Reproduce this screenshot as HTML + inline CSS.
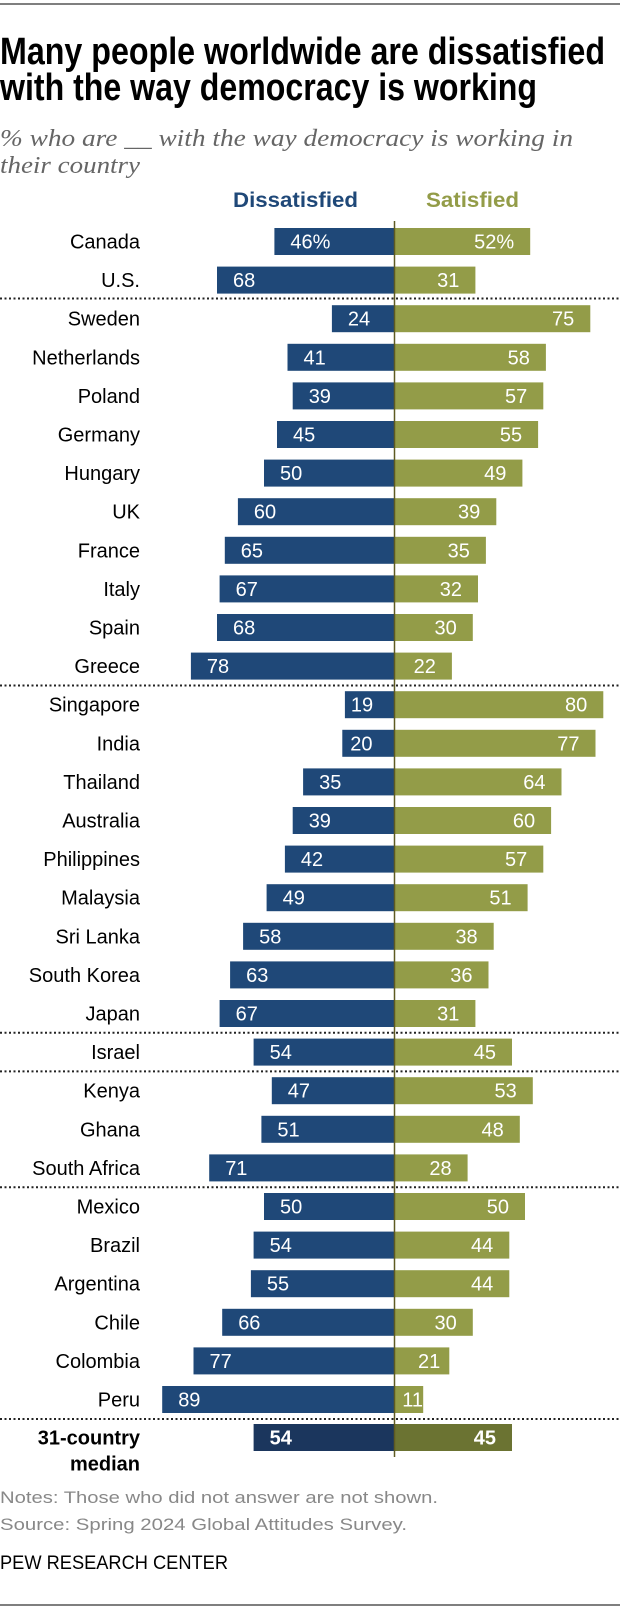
<!DOCTYPE html>
<html><head><meta charset="utf-8"><style>
html,body{margin:0;padding:0;background:#fff;}
svg{display:block;}
.t{font-family:"Liberation Sans Narrow","Liberation Sans",sans-serif;font-weight:bold;font-size:38px;fill:#000;}
.st{font-family:"Liberation Serif",serif;font-style:italic;font-size:24px;fill:#666;}
.lb{font-family:"Liberation Sans",sans-serif;font-size:20px;fill:#000;text-anchor:end;}
.v{font-family:"Liberation Sans",sans-serif;font-size:20px;fill:#fff;}
.ve{font-family:"Liberation Sans",sans-serif;font-size:20px;fill:#fff;text-anchor:end;}
.d{fill:#1f4878;} .s{fill:#939c48;}
.n{font-family:"Liberation Sans",sans-serif;font-size:17px;fill:#888;}
</style></head><body>
<svg width="620" height="1609" viewBox="0 0 620 1609" xmlns="http://www.w3.org/2000/svg">
<line x1="0" y1="4" x2="620" y2="4" stroke="#555" stroke-width="1.5"/>
<text class="t" x="0" y="64" textLength="605" lengthAdjust="spacingAndGlyphs">Many people worldwide are dissatisfied</text>
<text class="t" x="0" y="100" textLength="537" lengthAdjust="spacingAndGlyphs">with the way democracy is working</text>
<text class="st" x="0" y="146" textLength="573" lengthAdjust="spacingAndGlyphs">% who are __ with the way democracy is working in</text>
<text class="st" x="0" y="173" textLength="140" lengthAdjust="spacingAndGlyphs">their country</text>
<text x="233" y="207" textLength="125" lengthAdjust="spacingAndGlyphs" style="font-family:'Liberation Sans Narrow','Liberation Sans',sans-serif;font-weight:bold;font-size:21px;fill:#1f4878">Dissatisfied</text>
<text x="426" y="207" textLength="93" lengthAdjust="spacingAndGlyphs" style="font-family:'Liberation Sans Narrow','Liberation Sans',sans-serif;font-weight:bold;font-size:21px;fill:#939c48">Satisfied</text>

<g stroke="#222" stroke-width="2" stroke-dasharray="2,2.5">
<line x1="0" y1="298.5" x2="620" y2="298.5"/>
<line x1="0" y1="685.5" x2="620" y2="685.5"/>
<line x1="0" y1="1032.8" x2="620" y2="1032.8"/>
<line x1="0" y1="1071.4" x2="620" y2="1071.4"/>
<line x1="0" y1="1187.2" x2="620" y2="1187.2"/>
<line x1="0" y1="1419" x2="620" y2="1419"/>
</g>

<g transform="translate(0,241.5)"><text class="lb" x="140" y="7">Canada</text><rect class="d" x="274.4" y="-13.5" width="120.1" height="27"/><rect class="s" x="394.5" y="-13.5" width="135.7" height="27"/><text class="v" x="290.4" y="7">46%</text><text class="ve" x="514.2" y="7">52%</text></g>
<g transform="translate(0,280.1)"><text class="lb" x="140" y="7">U.S.</text><rect class="d" x="217" y="-13.5" width="177.5" height="27"/><rect class="s" x="394.5" y="-13.5" width="80.9" height="27"/><text class="v" x="233" y="7">68</text><text class="ve" x="459.4" y="7">31</text></g>
<g transform="translate(0,318.7)"><text class="lb" x="140" y="7">Sweden</text><rect class="d" x="331.9" y="-13.5" width="62.6" height="27"/><rect class="s" x="394.5" y="-13.5" width="195.8" height="27"/><text class="v" x="347.9" y="7">24</text><text class="ve" x="574.3" y="7">75</text></g>
<g transform="translate(0,357.3)"><text class="lb" x="140" y="7">Netherlands</text><rect class="d" x="287.5" y="-13.5" width="107" height="27"/><rect class="s" x="394.5" y="-13.5" width="151.4" height="27"/><text class="v" x="303.5" y="7">41</text><text class="ve" x="529.9" y="7">58</text></g>
<g transform="translate(0,395.9)"><text class="lb" x="140" y="7">Poland</text><rect class="d" x="292.7" y="-13.5" width="101.8" height="27"/><rect class="s" x="394.5" y="-13.5" width="148.8" height="27"/><text class="v" x="308.7" y="7">39</text><text class="ve" x="527.3" y="7">57</text></g>
<g transform="translate(0,434.5)"><text class="lb" x="140" y="7">Germany</text><rect class="d" x="277" y="-13.5" width="117.5" height="27"/><rect class="s" x="394.5" y="-13.5" width="143.6" height="27"/><text class="v" x="293" y="7">45</text><text class="ve" x="522.1" y="7">55</text></g>
<g transform="translate(0,473.1)"><text class="lb" x="140" y="7">Hungary</text><rect class="d" x="264" y="-13.5" width="130.5" height="27"/><rect class="s" x="394.5" y="-13.5" width="127.9" height="27"/><text class="v" x="280" y="7">50</text><text class="ve" x="506.4" y="7">49</text></g>
<g transform="translate(0,511.7)"><text class="lb" x="140" y="7">UK</text><rect class="d" x="237.9" y="-13.5" width="156.6" height="27"/><rect class="s" x="394.5" y="-13.5" width="101.8" height="27"/><text class="v" x="253.9" y="7">60</text><text class="ve" x="480.3" y="7">39</text></g>
<g transform="translate(0,550.3)"><text class="lb" x="140" y="7">France</text><rect class="d" x="224.8" y="-13.5" width="169.7" height="27"/><rect class="s" x="394.5" y="-13.5" width="91.4" height="27"/><text class="v" x="240.8" y="7">65</text><text class="ve" x="469.9" y="7">35</text></g>
<g transform="translate(0,588.9)"><text class="lb" x="140" y="7">Italy</text><rect class="d" x="219.6" y="-13.5" width="174.9" height="27"/><rect class="s" x="394.5" y="-13.5" width="83.5" height="27"/><text class="v" x="235.6" y="7">67</text><text class="ve" x="462" y="7">32</text></g>
<g transform="translate(0,627.5)"><text class="lb" x="140" y="7">Spain</text><rect class="d" x="217" y="-13.5" width="177.5" height="27"/><rect class="s" x="394.5" y="-13.5" width="78.3" height="27"/><text class="v" x="233" y="7">68</text><text class="ve" x="456.8" y="7">30</text></g>
<g transform="translate(0,666.1)"><text class="lb" x="140" y="7">Greece</text><rect class="d" x="190.9" y="-13.5" width="203.6" height="27"/><rect class="s" x="394.5" y="-13.5" width="57.4" height="27"/><text class="v" x="206.9" y="7">78</text><text class="ve" x="435.9" y="7">22</text></g>
<g transform="translate(0,704.7)"><text class="lb" x="140" y="7">Singapore</text><rect class="d" x="344.9" y="-13.5" width="49.6" height="27"/><rect class="s" x="394.5" y="-13.5" width="208.8" height="27"/><text class="v" x="350.9" y="7">19</text><text class="ve" x="587.3" y="7">80</text></g>
<g transform="translate(0,743.3)"><text class="lb" x="140" y="7">India</text><rect class="d" x="342.3" y="-13.5" width="52.2" height="27"/><rect class="s" x="394.5" y="-13.5" width="201" height="27"/><text class="v" x="350.3" y="7">20</text><text class="ve" x="579.5" y="7">77</text></g>
<g transform="translate(0,781.9)"><text class="lb" x="140" y="7">Thailand</text><rect class="d" x="303.1" y="-13.5" width="91.4" height="27"/><rect class="s" x="394.5" y="-13.5" width="167" height="27"/><text class="v" x="319.1" y="7">35</text><text class="ve" x="545.5" y="7">64</text></g>
<g transform="translate(0,820.5)"><text class="lb" x="140" y="7">Australia</text><rect class="d" x="292.7" y="-13.5" width="101.8" height="27"/><rect class="s" x="394.5" y="-13.5" width="156.6" height="27"/><text class="v" x="308.7" y="7">39</text><text class="ve" x="535.1" y="7">60</text></g>
<g transform="translate(0,859.1)"><text class="lb" x="140" y="7">Philippines</text><rect class="d" x="284.9" y="-13.5" width="109.6" height="27"/><rect class="s" x="394.5" y="-13.5" width="148.8" height="27"/><text class="v" x="300.9" y="7">42</text><text class="ve" x="527.3" y="7">57</text></g>
<g transform="translate(0,897.7)"><text class="lb" x="140" y="7">Malaysia</text><rect class="d" x="266.6" y="-13.5" width="127.9" height="27"/><rect class="s" x="394.5" y="-13.5" width="133.1" height="27"/><text class="v" x="282.6" y="7">49</text><text class="ve" x="511.6" y="7">51</text></g>
<g transform="translate(0,936.3)"><text class="lb" x="140" y="7">Sri Lanka</text><rect class="d" x="243.1" y="-13.5" width="151.4" height="27"/><rect class="s" x="394.5" y="-13.5" width="99.2" height="27"/><text class="v" x="259.1" y="7">58</text><text class="ve" x="477.7" y="7">38</text></g>
<g transform="translate(0,974.9)"><text class="lb" x="140" y="7">South Korea</text><rect class="d" x="230.1" y="-13.5" width="164.4" height="27"/><rect class="s" x="394.5" y="-13.5" width="94" height="27"/><text class="v" x="246.1" y="7">63</text><text class="ve" x="472.5" y="7">36</text></g>
<g transform="translate(0,1013.5)"><text class="lb" x="140" y="7">Japan</text><rect class="d" x="219.6" y="-13.5" width="174.9" height="27"/><rect class="s" x="394.5" y="-13.5" width="80.9" height="27"/><text class="v" x="235.6" y="7">67</text><text class="ve" x="459.4" y="7">31</text></g>
<g transform="translate(0,1052.1)"><text class="lb" x="140" y="7">Israel</text><rect class="d" x="253.6" y="-13.5" width="140.9" height="27"/><rect class="s" x="394.5" y="-13.5" width="117.5" height="27"/><text class="v" x="269.6" y="7">54</text><text class="ve" x="496" y="7">45</text></g>
<g transform="translate(0,1090.7)"><text class="lb" x="140" y="7">Kenya</text><rect class="d" x="271.8" y="-13.5" width="122.7" height="27"/><rect class="s" x="394.5" y="-13.5" width="138.3" height="27"/><text class="v" x="287.8" y="7">47</text><text class="ve" x="516.8" y="7">53</text></g>
<g transform="translate(0,1129.3)"><text class="lb" x="140" y="7">Ghana</text><rect class="d" x="261.4" y="-13.5" width="133.1" height="27"/><rect class="s" x="394.5" y="-13.5" width="125.3" height="27"/><text class="v" x="277.4" y="7">51</text><text class="ve" x="503.8" y="7">48</text></g>
<g transform="translate(0,1167.9)"><text class="lb" x="140" y="7">South Africa</text><rect class="d" x="209.2" y="-13.5" width="185.3" height="27"/><rect class="s" x="394.5" y="-13.5" width="73.1" height="27"/><text class="v" x="225.2" y="7">71</text><text class="ve" x="451.6" y="7">28</text></g>
<g transform="translate(0,1206.5)"><text class="lb" x="140" y="7">Mexico</text><rect class="d" x="264" y="-13.5" width="130.5" height="27"/><rect class="s" x="394.5" y="-13.5" width="130.5" height="27"/><text class="v" x="280" y="7">50</text><text class="ve" x="509" y="7">50</text></g>
<g transform="translate(0,1245.1)"><text class="lb" x="140" y="7">Brazil</text><rect class="d" x="253.6" y="-13.5" width="140.9" height="27"/><rect class="s" x="394.5" y="-13.5" width="114.8" height="27"/><text class="v" x="269.6" y="7">54</text><text class="ve" x="493.3" y="7">44</text></g>
<g transform="translate(0,1283.7)"><text class="lb" x="140" y="7">Argentina</text><rect class="d" x="250.9" y="-13.5" width="143.6" height="27"/><rect class="s" x="394.5" y="-13.5" width="114.8" height="27"/><text class="v" x="266.9" y="7">55</text><text class="ve" x="493.3" y="7">44</text></g>
<g transform="translate(0,1322.3)"><text class="lb" x="140" y="7">Chile</text><rect class="d" x="222.2" y="-13.5" width="172.3" height="27"/><rect class="s" x="394.5" y="-13.5" width="78.3" height="27"/><text class="v" x="238.2" y="7">66</text><text class="ve" x="456.8" y="7">30</text></g>
<g transform="translate(0,1360.9)"><text class="lb" x="140" y="7">Colombia</text><rect class="d" x="193.5" y="-13.5" width="201" height="27"/><rect class="s" x="394.5" y="-13.5" width="54.8" height="27"/><text class="v" x="209.5" y="7">77</text><text class="ve" x="440.3" y="7">21</text></g>
<g transform="translate(0,1399.5)"><text class="lb" x="140" y="7">Peru</text><rect class="d" x="162.2" y="-13.5" width="232.3" height="27"/><rect class="s" x="394.5" y="-13.5" width="28.7" height="27"/><text class="v" x="178.2" y="7">89</text><text class="ve" x="423" y="7">11</text></g>
<g transform="translate(0,1437.5)"><text class="lb" x="140" y="7" style="font-weight:bold">31-country</text><text class="lb" x="140" y="33" style="font-weight:bold">median</text><rect x="253.6" y="-13.5" width="140.9" height="27" fill="#1b365d"/><rect x="394.5" y="-13.5" width="117.5" height="27" fill="#6b7332"/><text class="v" x="269.6" y="7" style="font-weight:bold">54</text><text class="ve" x="496" y="7" style="font-weight:bold">45</text></g>

<line x1="394.5" y1="221" x2="394.5" y2="1457" stroke="#5e5a22" stroke-width="1.5"/>

<text class="n" x="0" y="1503" textLength="438" lengthAdjust="spacingAndGlyphs">Notes: Those who did not answer are not shown.</text>
<text class="n" x="0" y="1530" textLength="407" lengthAdjust="spacingAndGlyphs">Source: Spring 2024 Global Attitudes Survey.</text>
<text x="0" y="1569" textLength="228" lengthAdjust="spacingAndGlyphs" style="font-family:'Liberation Sans Narrow','Liberation Sans',sans-serif;font-size:19px;fill:#000">PEW RESEARCH CENTER</text>
<line x1="0" y1="1605" x2="620" y2="1605" stroke="#555" stroke-width="1.5"/>
</svg>
</body></html>
